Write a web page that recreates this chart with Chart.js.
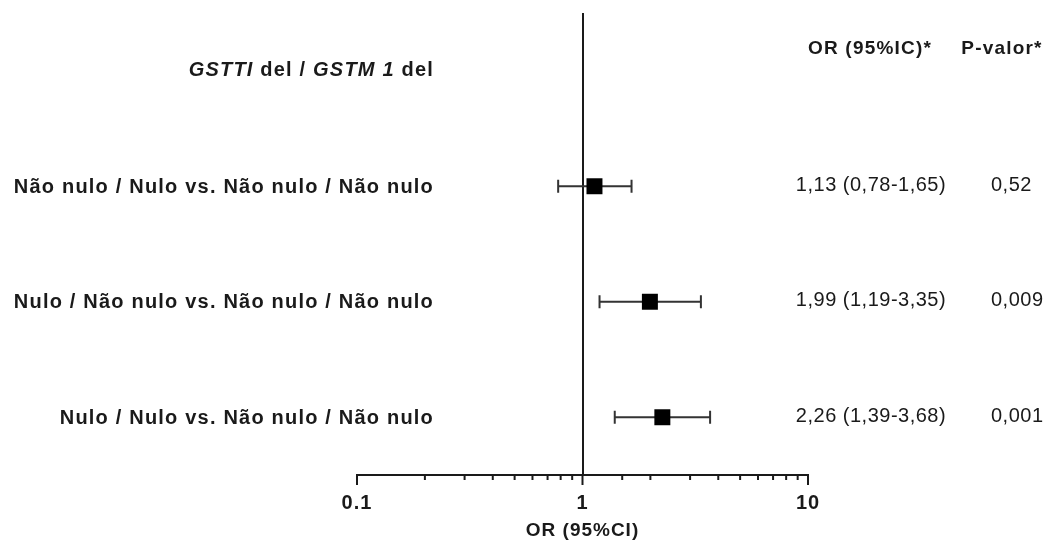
<!DOCTYPE html>
<html>
<head>
<meta charset="utf-8">
<script src="https://cdn.jsdelivr.net/npm/chart.js@4"></script>
<style>
  html, body { margin: 0; padding: 0; background: #fff; }
  #wrap { width: 1052px; height: 542px; }
</style>
</head>
<body>
<div id="wrap"><canvas id="forest"></canvas></div>
<script>
'use strict';

// Genotype comparisons (rows, top to bottom)
const comparisons = [
    'Não nulo / Nulo vs. Não nulo / Não nulo',
    'Nulo / Não nulo vs. Não nulo / Não nulo',
    'Nulo / Nulo vs. Não nulo / Não nulo'
];
const oddsRatios = [1.13, 1.99, 2.26];
const ciLower = [0.78, 1.19, 1.39];
const ciUpper = [1.65, 3.35, 3.68];
const orText = ['1,13 (0,78-1,65)', '1,99 (1,19-3,35)', '2,26 (1,39-3,68)'];
const pText = ['0,52', '0,009', '0,001'];

const xTickLabels = [0.1, 1, 10];
const refValue = 1;

const FONT = 'Liberation Sans, Arial, sans-serif';
const INK = '#1a1a1a';

function isPow10(v) {
    const l = Math.log10(v);
    return Math.abs(l - Math.round(l)) < 1e-6;
}

// reference line at OR = 1 plus CI whiskers, under the squares
const forestMarks = {
    id: 'forestMarks',
    beforeDraw(chart) {
        chart.ctx.letterSpacing = '1px';
    },
    beforeDatasetsDraw(chart) {
        const { ctx, chartArea, scales: { x, y } } = chart;
        ctx.save();
        ctx.strokeStyle = INK;
        ctx.lineWidth = 2;
        const rx = Math.round(x.getPixelForValue(refValue));
        ctx.beginPath();
        ctx.moveTo(rx, chartArea.top);
        ctx.lineTo(rx, chartArea.bottom);
        ctx.stroke();

        ctx.strokeStyle = '#333';
        for (let i = 0; i < oddsRatios.length; i++) {
            const py = y.getPixelForValue(i + 1);
            const x0 = x.getPixelForValue(ciLower[i]);
            const x1 = x.getPixelForValue(ciUpper[i]);
            ctx.beginPath();
            ctx.moveTo(x0, py);
            ctx.lineTo(x1, py);
            ctx.moveTo(x0, py - 6.5);
            ctx.lineTo(x0, py + 6.5);
            ctx.moveTo(x1, py - 6.5);
            ctx.lineTo(x1, py + 6.5);
            ctx.stroke();
        }
        ctx.restore();
    },
    afterDraw(chart) {
        const { ctx, scales: { x, y } } = chart;
        ctx.save();

        // tick marks on the log axis, long at each decade
        ctx.strokeStyle = INK;
        ctx.lineWidth = 2;
        x.ticks.forEach(t => {
            const px = x.getPixelForValue(t.value);
            const len = isPow10(t.value) ? 10 : 5;
            ctx.beginPath();
            ctx.moveTo(px, x.top);
            ctx.lineTo(px, x.top + len);
            ctx.stroke();
        });

        ctx.fillStyle = INK;
        ctx.textBaseline = 'middle';
        ctx.letterSpacing = '1.2px';

        // header over the row labels, gene names in italic
        const headY = y.getPixelForValue(0);
        const parts = [
            ['GSTTI', true], [' del / ', false], ['GSTM 1', true], [' del', false]
        ];
        const fontFor = it => (it ? 'italic ' : '') + 'bold 20px ' + FONT;
        let total = 0;
        parts.forEach(p => { ctx.font = fontFor(p[1]); total += ctx.measureText(p[0]).width; });
        let cx = 434 - total;
        ctx.textAlign = 'left';
        parts.forEach(p => {
            ctx.font = fontFor(p[1]);
            ctx.fillText(p[0], cx, headY);
            cx += ctx.measureText(p[0]).width;
        });

        // row labels
        ctx.font = 'bold 20px ' + FONT;
        ctx.textAlign = 'right';
        comparisons.forEach((c, i) => {
            ctx.fillText(c, 434, y.getPixelForValue(i + 1) + 1);
        });

        // right-hand columns
        ctx.textAlign = 'center';
        ctx.font = 'bold 19px ' + FONT;
        ctx.fillText('OR (95%IC)*', 870, 49);
        ctx.fillText('P-valor*', 1002, 49);

        ctx.letterSpacing = '0.5px';
        ctx.font = '20px ' + FONT;
        orText.forEach((s, i) => {
            ctx.fillText(s, 871, y.getPixelForValue(i + 1) - 1);
        });
        ctx.textAlign = 'left';
        pText.forEach((s, i) => {
            ctx.fillText(s, 991, y.getPixelForValue(i + 1) - 1);
        });
        ctx.restore();
    }
};

const ctx = document.getElementById('forest').getContext('2d');
new Chart(ctx, {
    type: 'scatter',
    data: {
        datasets: [{
            data: oddsRatios.map((v, i) => ({ x: v, y: i + 1 })),
            pointStyle: 'rect',
            pointRadius: 11.3,
            pointHoverRadius: 11.3,
            backgroundColor: '#000',
            borderWidth: 0,
            clip: false
        }]
    },
    options: {
        responsive: true,
        maintainAspectRatio: false,
        animation: false,
        events: [],
        layout: { padding: { left: 357, right: 244, top: 13, bottom: 0 } },
        plugins: { legend: { display: false }, tooltip: { enabled: false } },
        scales: {
            x: {
                type: 'logarithmic',
                min: 0.1,
                max: 10,
                afterFit(scale) { scale.height = 67; },
                border: { display: true, color: INK, width: 2 },
                grid: { display: true, drawOnChartArea: false, drawTicks: true, tickLength: 10, tickColor: 'rgba(0,0,0,0)' },
                ticks: {
                    autoSkip: false,
                    maxRotation: 0,
                    padding: 6,
                    color: INK,
                    font: { family: FONT, size: 20, weight: 'bold' },
                    callback(value) {
                        const hit = xTickLabels.find(t => Math.abs(t - value) < 1e-9);
                        return hit === undefined ? '' : String(hit);
                    }
                },
                title: {
                    display: true,
                    text: 'OR (95%CI)',
                    color: INK,
                    padding: { top: 0, bottom: 0 },
                    font: { family: FONT, size: 19, weight: 'bold' }
                }
            },
            y: {
                display: false,
                min: -0.5,
                max: 3.5,
                reverse: true
            }
        }
    },
    plugins: [forestMarks]
});
</script>
</body>
</html>
